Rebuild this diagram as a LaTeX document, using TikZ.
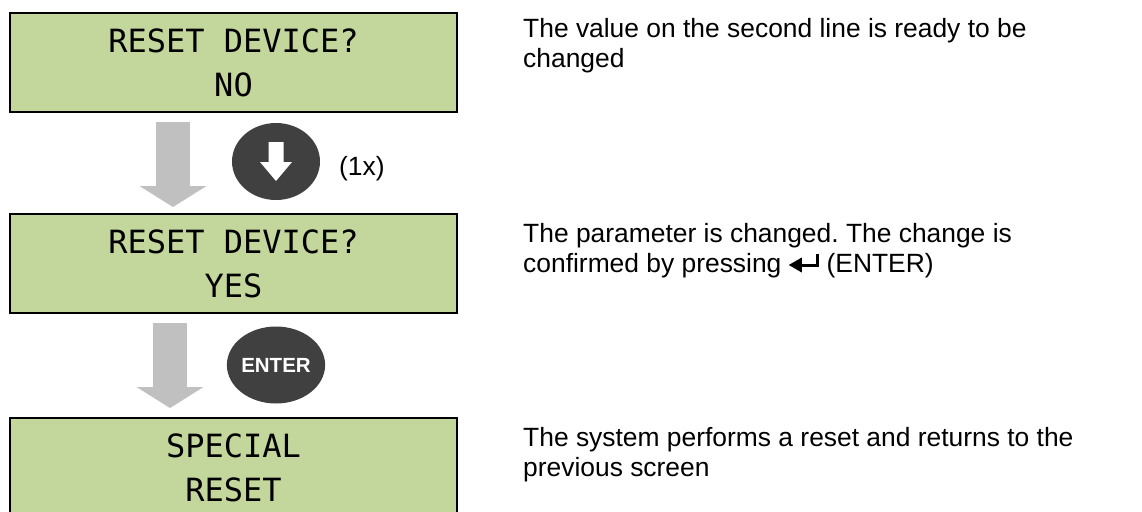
\documentclass[tikz,border=0pt]{standalone}
\usepackage{fontspec}
\setmainfont{Liberation Sans}
\newfontfamily\lcdfont{DejaVu Sans Mono}
\usetikzlibrary{arrows.meta,shapes.geometric,positioning}
\frenchspacing

\definecolor{lcdgreen}{RGB}{195,214,155}
\definecolor{keygray}{RGB}{64,64,64}
\definecolor{flowgray}{RGB}{192,192,192}

% small enter symbol used inside the text
\newcommand{\entersym}{\tikz[x=1pt, y=1pt, baseline=0pt]{%
	\draw[line width=3pt] (29,19) -- (29,7.5) -- (11,7.5);
	\fill (0,7.5) -- (13,0) -- (13,15) -- cycle;}}

\begin{document}
\begin{tikzpicture}[x=1pt, y=-1pt,
		lcd/.style={draw=black, line width=2.5pt, fill=lcdgreen, outer sep=0pt, inner sep=0pt,
			minimum width=447pt, minimum height=99pt, align=center,
			font=\lcdfont\fontsize{32}{44}\selectfont},
		key/.style={ellipse, fill=keygray, minimum width=88pt, minimum height=77pt, inner sep=0pt,
			text=white, font=\bfseries\fontsize{20.5}{24}\selectfont},
		flow/.style={draw=flowgray, line width=34pt,
			-{Triangle[width=67pt, length=21pt, line width=0pt]}},
		note/.style={anchor=base west, align=left, inner sep=0pt,
			font=\fontsize{26.4}{30.5}\selectfont}]
		% frame of the page
		\useasboundingbox (0,0) rectangle (1142,511);

		% 1. The three LCD screens
		\node[lcd] (lcd1) at (233.5,62.5) {RESET DEVICE?\\NO};
		\node[lcd] (lcd2) at (233.5,263.5) {RESET DEVICE?\\YES};
		\node[lcd] (lcd3) at (233.5,467.5) {SPECIAL\\RESET};

		% 2. Gray flow arrows between the screens
		\draw[flow] ([xshift=-60.5pt, yshift=-10pt]lcd1.south) -- ([xshift=-60.5pt, yshift=7pt]lcd2.north);
		\draw[flow] ([xshift=-63.5pt, yshift=-10pt]lcd2.south) -- ([xshift=-63.5pt, yshift=10pt]lcd3.north);

		% 3. Keys to press
		\node[key] (down) at (276,161.5) {};
		\fill[white, shift={(down.center)}] (-7.5,-19.5) -- (7.5,-19.5) -- (7.5,0.5) -- (16,0.5)
			-- (0,19.5) -- (-16,0.5) -- (-7.5,0.5) -- cycle;
		\node[note] (times) at (339,175) {(1x)};
		\node[key] (enter) at (276,365) {ENTER};

		% 4. Explanations on the right (base = last line)
		\node[note] (txt1) at (523,67.5) {The value on the second line is ready to be\\changed};
		\node[note] (txt2) at (523,272.5) {The parameter is changed. The change is\\confirmed by pressing \entersym\ (ENTER)};
		\node[note] (txt3) at (523,476.5) {The system performs a reset and returns to the\\previous screen};
	\end{tikzpicture}
\end{document}
